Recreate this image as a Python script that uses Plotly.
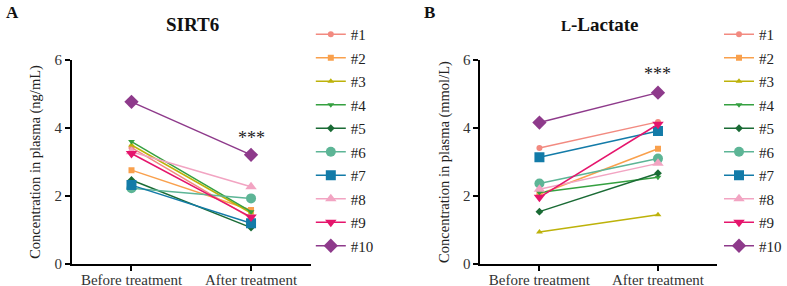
import plotly.graph_objects as go

W, H = 787, 286

categories = ["Before treatment", "After treatment"]
subjects = ["#1", "#2", "#3", "#4", "#5", "#6", "#7", "#8", "#9", "#10"]

sirt6_before = [3.42, 2.76, 3.50, 3.60, 2.47, 2.23, 2.32, 3.30, 3.25, 4.77]
sirt6_after = [1.35, 1.59, 1.50, 1.54, 1.07, 1.93, 1.20, 2.27, 1.38, 3.21]

lact_before = [3.41, 2.05, 0.94, 2.10, 1.54, 2.37, 3.14, 2.20, 1.96, 4.16]
lact_after = [4.18, 3.39, 1.45, 2.55, 2.67, 3.10, 3.91, 2.96, 4.11, 5.04]

y_ticks = [0, 2, 4, 6]

colors = ["#F28A80", "#F9A04C", "#BDB20A", "#35A040", "#1A6B35",
          "#5DB596", "#137BA8", "#F2A4C2", "#E5156C", "#8E3A8B"]
symbols = ["circle", "square", "triangle-up", "triangle-down", "diamond",
           "circle", "square", "triangle-up", "triangle-down", "diamond"]
sizes = [6, 6, 6, 6, 6, 10, 10, 10, 10, 11]

FONT = "Liberation Serif"

fig = go.Figure()

for i, name in enumerate(subjects):
    fig.add_trace(go.Scatter(
        x=categories, y=[sirt6_before[i], sirt6_after[i]],
        mode="lines+markers", name=name, legendgroup="a" + name,
        line=dict(color=colors[i], width=1.5),
        marker=dict(symbol=symbols[i], size=sizes[i], color=colors[i]),
        xaxis="x", yaxis="y", legend="legend",
    ))
for i, name in enumerate(subjects):
    fig.add_trace(go.Scatter(
        x=categories, y=[lact_before[i], lact_after[i]],
        mode="lines+markers", name=name, legendgroup="b" + name,
        line=dict(color=colors[i], width=1.5),
        marker=dict(symbol=symbols[i], size=sizes[i], color=colors[i]),
        xaxis="x2", yaxis="y2", legend="legend2",
    ))

ydom = [(H - 264) / H, (H - 60) / H]

axis_common = dict(showline=True, linecolor="black", linewidth=1.5,
                   ticks="outside", ticklen=5, tickwidth=1.5, tickcolor="black",
                   showgrid=False, zeroline=False, automargin=False)

xa = dict(axis_common, type="category", range=[-0.5, 1.5], ticklabelstandoff=-4,
          tickfont=dict(family=FONT, size=15, color="#333"))
ya = dict(axis_common, range=[0, 6], tickvals=y_ticks,
          tickfont=dict(family=FONT, size=15, color="#333"))

fig.update_layout(
    width=W, height=H,
    margin=dict(l=0, r=0, t=0, b=0),
    paper_bgcolor="white", plot_bgcolor="white",
    font=dict(family=FONT, color="#222"),
    xaxis=dict(xa, domain=[72 / W, 312 / W], anchor="y"),
    yaxis=dict(ya, domain=ydom, anchor="x",
               title=dict(text="Concentration in plasma (ng/mL)",
                          font=dict(family=FONT, size=14.5, color="#222"),
                          standoff=10)),
    xaxis2=dict(xa, domain=[482 / W, 720 / W], anchor="y2"),
    yaxis2=dict(ya, domain=ydom, anchor="x2",
                title=dict(text="Concentration in plasma (mmol/L)",
                           font=dict(family=FONT, size=14.5, color="#222"),
                           standoff=10)),
    legend=dict(x=312 / W, y=1 - 18 / H, xanchor="left", yanchor="top",
                traceorder="grouped", tracegroupgap=1, itemwidth=30,
                font=dict(family=FONT, size=15, color="#222"),
                bgcolor="rgba(0,0,0,0)"),
    legend2=dict(x=722 / W, y=1 - 18 / H, xanchor="left", yanchor="top",
                 traceorder="grouped", tracegroupgap=1, itemwidth=30,
                 font=dict(family=FONT, size=15, color="#222"),
                 bgcolor="rgba(0,0,0,0)"),
    annotations=[
        dict(text="<b>A</b>", x=4 / W, y=1 - 12 / H, xref="paper", yref="paper",
             xanchor="left", yanchor="middle", showarrow=False,
             font=dict(family=FONT, size=17, color="#111")),
        dict(text="<b>B</b>", x=424 / W, y=1 - 12 / H, xref="paper", yref="paper",
             xanchor="left", yanchor="middle", showarrow=False,
             font=dict(family=FONT, size=17, color="#111")),
        dict(text="<b>SIRT6</b>", x=193 / W, y=1 - 25 / H, xref="paper", yref="paper",
             xanchor="center", yanchor="middle", showarrow=False,
             font=dict(family=FONT, size=19, color="#111")),
        dict(text="<b><span style='font-size:15px'>L</span>-Lactate</b>",
             x=602 / W, y=1 - 25 / H, xref="paper", yref="paper",
             xanchor="center", yanchor="middle", showarrow=False,
             font=dict(family=FONT, size=19, color="#111")),
        dict(text="***", x="After treatment", y=3.72, xref="x", yref="y",
             showarrow=False, font=dict(family=FONT, size=18, color="#222")),
        dict(text="***", x="After treatment", y=5.58, xref="x2", yref="y2",
             showarrow=False, font=dict(family=FONT, size=18, color="#222")),
    ],
)

fig.write_html("out.html", config={"displayModeBar": False},
               post_script="document.body.style.margin='0';document.body.style.overflow='hidden';")
